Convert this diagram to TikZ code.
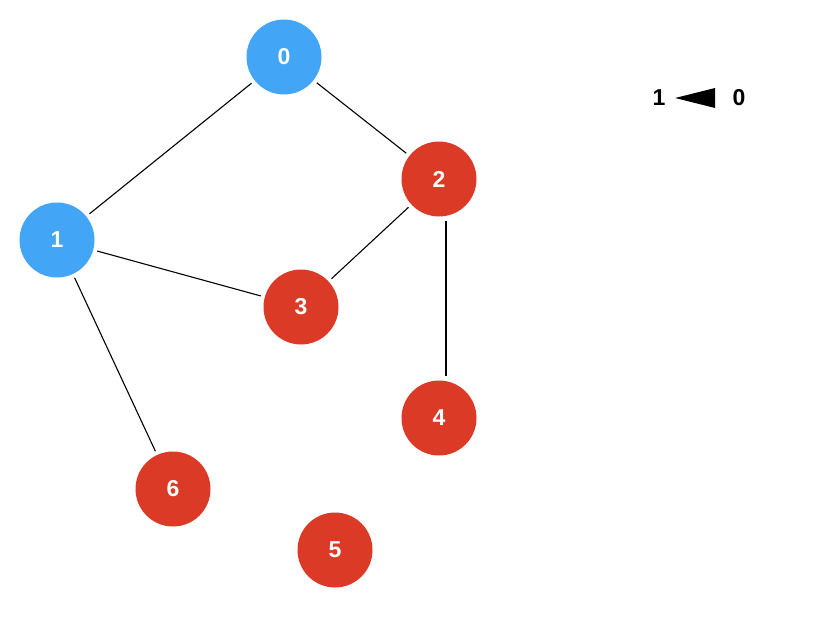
\documentclass[tikz,border=0pt]{standalone}
\usepackage{fontspec}
\setmainfont{Liberation Sans}
\usepackage{tikz}
\usetikzlibrary{arrows.meta,positioning,calc}
\definecolor{vtxBlue}{HTML}{42A5F5}
\definecolor{vtxRed}{HTML}{DB3A26}

\begin{document}
\begin{tikzpicture}[x=1pt,y=-1pt,
    vtx/.style={circle,minimum size=75pt,inner sep=0pt,text=white},
    blue vtx/.style={vtx,fill=vtxBlue},
    red vtx/.style={vtx,fill=vtxRed},
    every node/.style={font=\bfseries\fontsize{23}{26}\selectfont},
    edge/.style={draw=black,line width=1.1pt,shorten <=4pt,shorten >=4pt}]
  \useasboundingbox (0,0) rectangle (838,642);
  % vertices
  \node[blue vtx] (v0) at (284,57)  {0};
  \node[blue vtx] (v1) at (57,240)  {1};
  \node[red vtx]  (v2) at (439,179) {2};
  \node[red vtx]  (v3) at (301,307) {3};
  \node[red vtx]  (v4) at (439,418) {4};
  \node[red vtx]  (v5) at (335,550) {5};
  \node[red vtx]  (v6) at (173,489) {6};
  % edges
  \draw[edge] (v0) -- (v1);
  \draw[edge] (v0) -- (v2);
  \draw[edge] (v2) -- (v3);
  \draw[edge] (v1) -- (v3);
  \draw[edge] (v1) -- (v6);
  \draw[edge] ($(v2.south)+(7,0)$) -- ($(v4.north)+(7,0)$);
  % legend
  \node (k1) at (659,98) {1};
  \node (k0) at (739,98) {0};
  \coordinate (tip) at (675,98);
  \fill (tip) -- ++(40,-10) -- ++(0,20) -- cycle;
\end{tikzpicture}
\end{document}
